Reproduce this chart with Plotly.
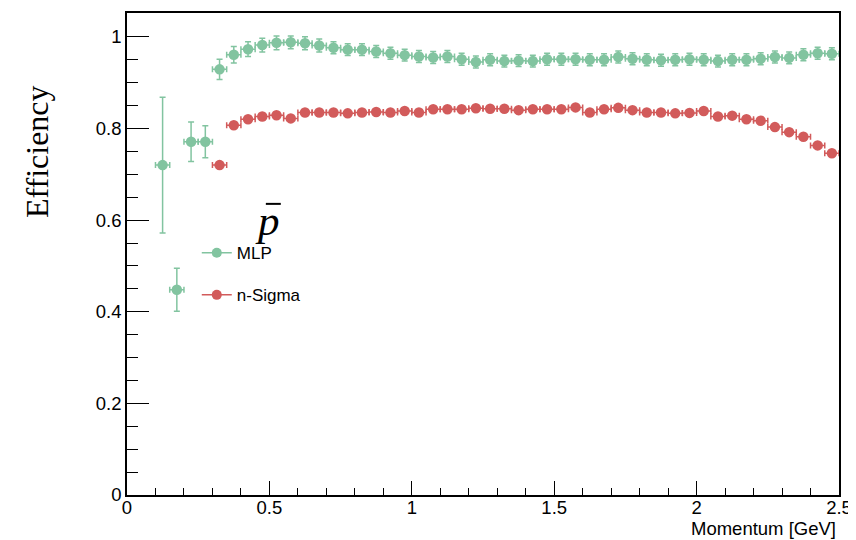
import plotly.graph_objects as go

# ---------------- data ----------------
mlp_x = [0.125, 0.175, 0.225, 0.275, 0.325, 0.375, 0.425, 0.475, 0.525, 0.575,
         0.625, 0.675, 0.725, 0.775, 0.825, 0.875, 0.925, 0.975, 1.025, 1.075,
         1.125, 1.175, 1.225, 1.275, 1.325, 1.375, 1.425, 1.475, 1.525, 1.575,
         1.625, 1.675, 1.725, 1.775, 1.825, 1.875, 1.925, 1.975, 2.025, 2.075,
         2.125, 2.175, 2.225, 2.275, 2.325, 2.375, 2.425, 2.475]
mlp_eff = [0.720, 0.448, 0.771, 0.771, 0.929, 0.961, 0.973, 0.982, 0.987, 0.988,
           0.986, 0.981, 0.976, 0.972, 0.972, 0.968, 0.964, 0.960, 0.957, 0.955,
           0.957, 0.951, 0.945, 0.950, 0.947, 0.948, 0.947, 0.951, 0.951, 0.951,
           0.950, 0.950, 0.956, 0.952, 0.950, 0.949, 0.950, 0.951, 0.950, 0.947,
           0.950, 0.950, 0.952, 0.956, 0.954, 0.961, 0.964, 0.963]
mlp_err = [0.148, 0.047, 0.043, 0.035, 0.022, 0.018, 0.016, 0.015, 0.015, 0.014,
           0.014, 0.014, 0.013, 0.013, 0.013, 0.013, 0.013, 0.013, 0.013, 0.013,
           0.013, 0.013, 0.013, 0.013, 0.013, 0.013, 0.013, 0.013, 0.013, 0.013,
           0.013, 0.013, 0.013, 0.013, 0.013, 0.013, 0.013, 0.013, 0.013, 0.013,
           0.013, 0.013, 0.013, 0.013, 0.013, 0.013, 0.013, 0.013]

nsig_x = [0.325, 0.375, 0.425, 0.475, 0.525, 0.575, 0.625, 0.675, 0.725, 0.775,
          0.825, 0.875, 0.925, 0.975, 1.025, 1.075, 1.125, 1.175, 1.225, 1.275,
          1.325, 1.375, 1.425, 1.475, 1.525, 1.575, 1.625, 1.675, 1.725, 1.775,
          1.825, 1.875, 1.925, 1.975, 2.025, 2.075, 2.125, 2.175, 2.225, 2.275,
          2.325, 2.375, 2.425, 2.475]
nsig_eff = [0.720, 0.807, 0.820, 0.826, 0.829, 0.822, 0.835, 0.835, 0.835, 0.833,
            0.835, 0.836, 0.835, 0.838, 0.835, 0.842, 0.842, 0.842, 0.844, 0.843,
            0.843, 0.840, 0.842, 0.842, 0.842, 0.846, 0.835, 0.842, 0.845, 0.840,
            0.835, 0.835, 0.833, 0.834, 0.838, 0.826, 0.828, 0.820, 0.817, 0.803,
            0.792, 0.782, 0.763, 0.746]
nsig_err = [0.006] * 44

bin_half_width = 0.025

series_names = ["MLP", "n-Sigma"]
x_ticks = [0, 0.5, 1, 1.5, 2, 2.5]
y_ticks = [0, 0.2, 0.4, 0.6, 0.8, 1]

GREEN = "#82c4a0"
RED = "#d25b5b"

fig = go.Figure()


def add_series(x, y, err, color, name):
    fig.add_trace(go.Scatter(
        x=x, y=y, mode="markers", name=name, showlegend=False,
        marker=dict(color=color, size=10.5, symbol="circle"),
        error_y=dict(type="data", array=err, color=color, thickness=1.5, width=3),
        error_x=dict(type="constant", value=bin_half_width, color=color, thickness=1.5, width=3),
    ))


add_series(mlp_x, mlp_eff, mlp_err, GREEN, series_names[0])
add_series(nsig_x, nsig_eff, nsig_err, RED, series_names[1])

# legend entries (line + marker, ROOT "lep" style)
for nm, col in zip(series_names, [GREEN, RED]):
    fig.add_trace(go.Scatter(
        x=[None], y=[None], mode="lines+markers", name=nm, legendgroup=nm,
        line=dict(color=col, width=1.5), marker=dict(color=col, size=10),
    ))

axis_common = dict(
    showgrid=False, zeroline=False, showline=True, linecolor="black", linewidth=1.5,
    mirror=True, ticks="inside", tickcolor="black", tickwidth=1.2, automargin=False,
    tickfont=dict(family="Liberation Sans, Arial, sans-serif", size=18.5, color="black"),
)

fig.update_xaxes(
    range=[0, 2.5], tickvals=x_ticks, ticktext=[f"{v:g}" for v in x_ticks], ticklen=14,
    minor=dict(dtick=0.1, ticklen=7, ticks="inside", tickcolor="black", tickwidth=1.2),
    ticklabelstandoff=-5,
    **axis_common,
)
fig.update_yaxes(
    range=[0, 1.052], tickvals=y_ticks, ticktext=[f"{v:g}" for v in y_ticks], ticklen=22,
    minor=dict(dtick=0.05, ticklen=11, ticks="inside", tickcolor="black", tickwidth=1.2),
    ticklabelstandoff=0,
    **axis_common,
)

# The page body adds an 8 px offset; the figure is sized/margined to compensate.
fig.update_layout(
    width=848, height=532,
    margin=dict(l=119, r=17, t=5, b=45),
    paper_bgcolor="white", plot_bgcolor="white",
    legend=dict(
        x=0.098, y=0.539, xanchor="left", yanchor="top",
        bgcolor="rgba(0,0,0,0)", tracegroupgap=17,
        font=dict(family="Liberation Sans, Arial, sans-serif", size=17, color="black"),
    ),
    annotations=[
        dict(text="Efficiency", xref="paper", yref="paper", x=-0.126, y=0.712,
             xanchor="center", yanchor="middle", textangle=-90, showarrow=False,
             font=dict(family="Liberation Serif, Times New Roman, serif", size=32, color="black")),
        dict(text="Momentum [GeV]", xref="paper", yref="paper", x=0.999, y=-0.070,
             xanchor="right", yanchor="middle", showarrow=False,
             font=dict(family="Liberation Sans, Arial, sans-serif", size=18.5, color="black")),
        dict(text="<i>p</i>", xref="paper", yref="paper", x=0.197, y=0.569,
             xanchor="center", yanchor="middle", showarrow=False,
             font=dict(family="Liberation Serif, Times New Roman, serif", size=43, color="black")),
    ],
    shapes=[
        dict(type="line", xref="paper", yref="paper", x0=0.195, x1=0.216, y0=0.604, y1=0.604,
             line=dict(color="black", width=2)),
    ],
)

fig.write_html("out.html")
